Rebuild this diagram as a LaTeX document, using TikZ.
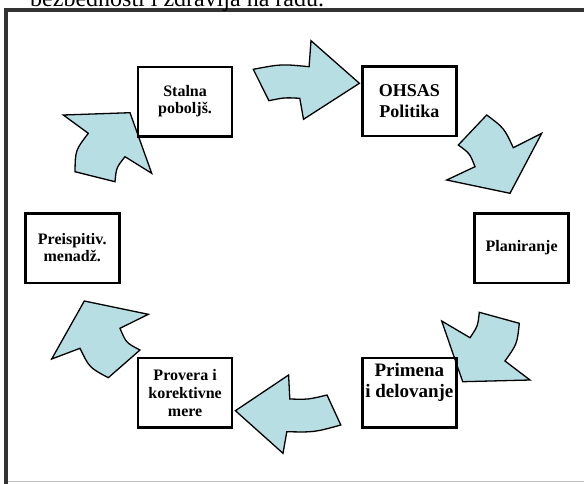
\documentclass[tikz,border=0pt]{standalone}
\usepackage{fontspec}
\setmainfont{Liberation Serif}
\definecolor{arrowblue}{RGB}{183,222,226}
\definecolor{framedark}{RGB}{51,51,51}
\definecolor{framelight}{RGB}{192,192,192}
\tikzset{
  arr/.style={fill=arrowblue, draw=black, line width=1.3pt, line join=miter},
  stepbox/.style={draw=black, line width=2.5pt, minimum width=94pt, minimum height=69.5pt, inner sep=0pt, align=center},
  smalltxt/.style={font=\fontsize{16}{17}\selectfont\bfseries},
}
\begin{document}
\begin{tikzpicture}[x=1pt,y=-1pt]
\useasboundingbox (0,0) rectangle (584,483);
\clip (0,0) rectangle (584,483);
% frame
\draw[framedark, line width=4pt] (6,490) -- (6,10) -- (600,10);
\draw[framelight, line width=1.5pt] (8,481.7) -- (600,481.7);
\node[anchor=base west, inner sep=0pt, font=\fontsize{24}{28}\selectfont] (title) at (30,6.5) {bezbednosti i zdravlja na radu.};
% arrows
\draw[arr] (253.3,69.3) .. controls (281.2,64) .. (309.1,66.7) -- (311,40.7) -- (359.4,83.3) -- (303.5,119.3) -- (299.8,98.3) .. controls (284.35,97.5) .. (268.9,100.7) -- cycle;
\draw[arr] (486.7,115) .. controls (504.1,128.0) .. (513.3,147.7) -- (541.7,133.3) -- (510,193.3) -- (446.7,180) -- (475,166.7) .. controls (469.8,153.4) .. (458.3,145) -- cycle;
\draw[arr] (441.7,321) -- (470,337.7) .. controls (477.8,326.1) .. (479.3,312.3) -- (519.3,323.3) .. controls (517.1,344.0) .. (505,361) -- (530,380) -- (462.7,381.7) -- cycle;
\draw[arr] (235.4,410.7) -- (288.6,375) -- (289.8,399) .. controls (308.6,399.5) .. (327,395) -- (340.8,425) .. controls (314.3,432.3) .. (286.8,431.7) -- (283,453.3) -- cycle;
\draw[arr] (84.3,301) -- (148.3,314.3) -- (120,328.3) .. controls (126.1,342.8) .. (140,350) -- (108.3,377.7) .. controls (89.35,367.6) .. (80,348.3) -- (51.7,359) -- cycle;
\draw[arr] (130,112.7) -- (151.7,173.3) -- (125,156.7) .. controls (116.3,167.7) .. (115,181.7) -- (75,171.7) .. controls (75.35,150.3) .. (88.3,133.3) -- (63.3,115) -- cycle;
% boxes
\node[stepbox, smalltxt] (stalna) at (185.1,101.5) {Stalna\\pobolj\v{s}.};
\node[stepbox, font=\fontsize{18}{20.5}\selectfont\bfseries] (ohsas) at (409.35,101.3) {OHSAS\\Politika};
\node[stepbox, smalltxt] (preisp) at (72.25,248) {Preispitiv.\\menad\v{z}.};
\node[stepbox, smalltxt] (plan) at (521.65,248) {Planiranje};
\node[stepbox, font=\fontsize{16}{18.3}\selectfont\bfseries] (provera) at (185.1,392.85) {Provera i\\korektivne\\mere};
\node[stepbox] (primena) at (409.35,392.85) {};
\node[anchor=north, inner sep=0pt, align=center, font=\fontsize{19}{21}\selectfont\bfseries] (primenatxt) at (409.35,363.3) {Primena\\i delovanje};
\end{tikzpicture}
\end{document}
